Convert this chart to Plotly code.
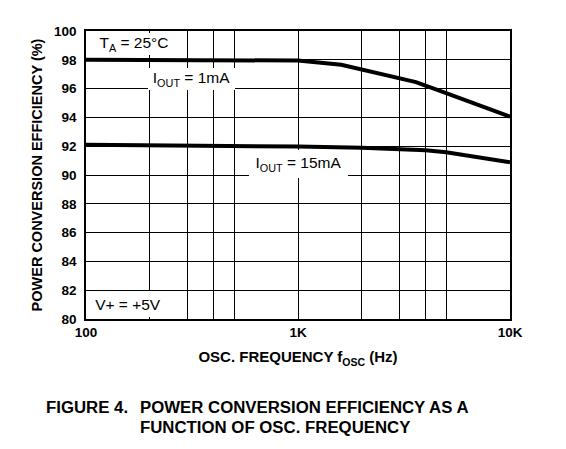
import plotly.graph_objects as go

# oscillator frequency (Hz) and efficiency (%)
freq_1ma = [100, 1000, 1600, 2000, 3000, 3600, 5000, 10000]
eff_1ma = [98.0, 97.95, 97.65, 97.33, 96.73, 96.45, 95.68, 94.05]

freq_15ma = [100, 500, 1000, 2000, 3000, 4000, 5000, 10000]
eff_15ma = [92.1, 92.05, 91.98, 91.9, 91.8, 91.72, 91.58, 90.88]

# tick labels and the extra vertical grid lines
x_ticks = [100, 1000, 10000]
x_labels = ["100", "1K", "10K"]
x_minor_grid = [200, 300, 400, 500, 2000, 3000, 4000, 5000]
y_ticks = [80, 82, 84, 86, 88, 90, 92, 94, 96, 98, 100]

FONT = "Arial, Liberation Sans, sans-serif"

fig = go.Figure()
fig.add_trace(go.Scatter(x=freq_1ma, y=eff_1ma, mode="lines",
                         line=dict(color="black", width=4), name="1mA"))
fig.add_trace(go.Scatter(x=freq_15ma, y=eff_15ma, mode="lines",
                         line=dict(color="black", width=4), name="15mA"))

axis_common = dict(
    showgrid=True, gridcolor="black", gridwidth=1.2,
    showline=True, linecolor="black", linewidth=1.5, mirror=True,
    ticks="", zeroline=False,
    tickfont=dict(family=FONT, size=13.5, color="black", weight="bold"),
)

fig.update_xaxes(
    type="log", range=[2, 4],
    tickmode="array", tickvals=x_ticks, ticktext=x_labels,
    minor=dict(tickmode="array", tickvals=x_minor_grid, showgrid=True,
               gridcolor="black", gridwidth=1.2, ticks=""),
    ticklabelstandoff=0,
    title=dict(text="OSC. FREQUENCY f<sub>OSC</sub> (Hz)", standoff=13,
               font=dict(family=FONT, size=15, color="black", weight="bold")),
    **axis_common,
)
fig.update_yaxes(
    range=[80, 100],
    tickmode="array", tickvals=y_ticks,
    ticklabelstandoff=5,
    title=dict(text="POWER CONVERSION EFFICIENCY (%)", standoff=8,
               font=dict(family=FONT, size=14.5, color="black", weight="bold")),
    **axis_common,
)

label_font = dict(family=FONT, size=15.5, color="black")


def box_label(text, x, y, w, h):
    fig.add_annotation(text=text, xref="paper", yref="paper", x=x, y=y,
                       xanchor="center", yanchor="middle", showarrow=False,
                       width=w, height=h, bgcolor="white", borderpad=1,
                       borderwidth=0, font=label_font)


box_label("I<sub>OUT</sub> = 1mA", 0.2488, 0.833, 85, 20)
box_label("I<sub>OUT</sub> = 15mA", 0.5012, 0.538, 97, 26)
box_label("T<sub>A</sub> = 25°C", 0.1132, 0.955, 78, 20)
box_label("V+ = +5V", 0.0991, 0.052, 70, 24)

cap_font = dict(family=FONT, size=16.8, color="black", weight="bold")
fig.add_annotation(text="FIGURE 4.", xref="paper", yref="paper",
                   x=-0.1, y=-0.309, xanchor="left", yanchor="middle",
                   showarrow=False, font=cap_font)
fig.add_annotation(text="POWER CONVERSION EFFICIENCY AS A", xref="paper", yref="paper",
                   x=0.1226, y=-0.309, xanchor="left", yanchor="middle",
                   showarrow=False, font=cap_font)
fig.add_annotation(text="FUNCTION OF OSC. FREQUENCY", xref="paper", yref="paper",
                   x=0.1226, y=-0.375, xanchor="left", yanchor="middle",
                   showarrow=False, font=cap_font)

# page body adds an 8px offset, so the figure is 8px smaller on each side
fig.update_layout(
    width=558, height=441,
    margin=dict(l=78, r=56, t=23, b=130),
    paper_bgcolor="white", plot_bgcolor="white",
    showlegend=False,
)

fig.write_html("out.html")
